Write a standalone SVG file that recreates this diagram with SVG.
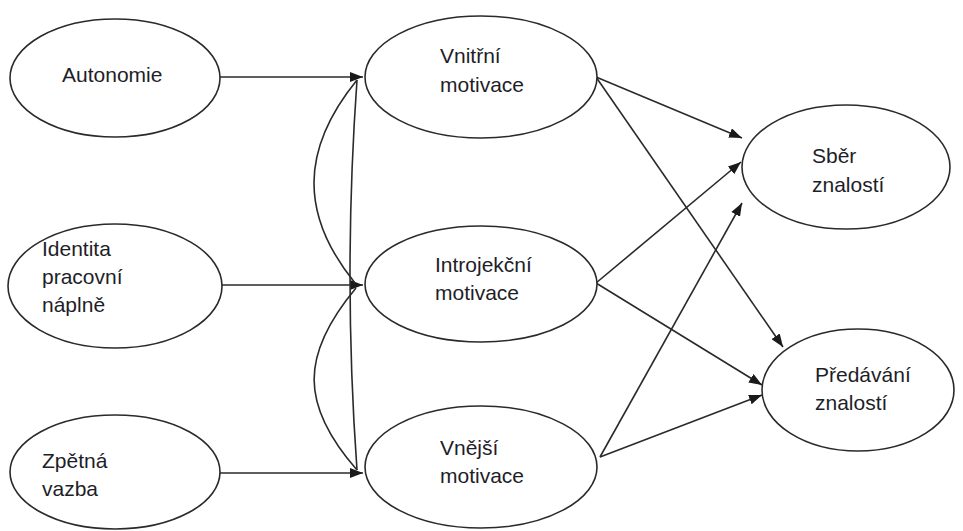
<svg xmlns="http://www.w3.org/2000/svg" width="963" height="531" viewBox="0 0 963 531">
  <defs>
    <marker id="arrow" viewBox="0 0 13 10" refX="13" refY="5" markerWidth="13" markerHeight="10" markerUnits="userSpaceOnUse" orient="auto">
      <path d="M0,0 L13,5 L0,10 z" fill="#1a1a1a"/>
    </marker>
    <style>
      .node { fill: #ffffff; stroke: #2a2a2a; stroke-width: 1.6; }
      .label { font-family: "Liberation Sans", Arial, sans-serif; font-size: 21px; fill: #1e1e28; }
      .edge { fill: none; stroke: #2a2a2a; stroke-width: 1.6; }
      .arrow { marker-end: url(#arrow); }
    </style>
  </defs>
  <rect width="963" height="531" fill="#ffffff"/>

  <!-- connectors -->
  <g id="connectors">
    <!-- inputs to motivation types -->
    <path class="edge arrow" d="M220,77 L363,77"/>
    <path class="edge arrow" d="M222,285 L363,285"/>
    <path class="edge arrow" d="M220,473 L363,473"/>
    <!-- correlation arcs between motivation types -->
    <path class="edge" d="M357,80 C300,150 300,215 355,283"/>
    <path class="edge" d="M356,288 C300,355 300,405 357,470"/>
    <path class="edge" d="M357,80 Q343,276 357,470"/>
    <!-- motivation types to outcomes -->
    <path class="edge arrow" d="M596,77 L742,138"/>
    <path class="edge arrow" d="M596,77 L783,347"/>
    <path class="edge arrow" d="M596,283 L741,162"/>
    <path class="edge arrow" d="M596,283 L762,385"/>
    <path class="edge arrow" d="M600,457 L742,203"/>
    <path class="edge arrow" d="M600,457 L762,395"/>
  </g>

  <g id="autonomie">
    <ellipse class="node" cx="115" cy="78" rx="105" ry="59"/>
    <text class="label" x="62" y="82">Autonomie</text>
  </g>
  <g id="identita">
    <ellipse class="node" cx="115" cy="286" rx="107" ry="62"/>
    <text class="label" x="42" y="256">Identita</text>
    <text class="label" x="42" y="284">pracovní</text>
    <text class="label" x="42" y="312">náplně</text>
  </g>
  <g id="zpetna-vazba">
    <ellipse class="node" cx="115" cy="472" rx="105" ry="57"/>
    <text class="label" x="42" y="468">Zpětná</text>
    <text class="label" x="42" y="496">vazba</text>
  </g>

  <g id="vnitrni">
    <ellipse class="node" cx="481" cy="77" rx="116" ry="61"/>
    <text class="label" x="440" y="63">Vnitřní</text>
    <text class="label" x="440" y="92">motivace</text>
  </g>
  <g id="introjekcni">
    <ellipse class="node" cx="481" cy="284" rx="116" ry="58"/>
    <text class="label" x="435" y="272">Introjekční</text>
    <text class="label" x="435" y="300">motivace</text>
  </g>
  <g id="vnejsi">
    <ellipse class="node" cx="481" cy="467" rx="116" ry="61"/>
    <text class="label" x="440" y="455">Vnější</text>
    <text class="label" x="440" y="483">motivace</text>
  </g>

  <g id="sber">
    <ellipse class="node" cx="846" cy="167" rx="104" ry="62"/>
    <text class="label" x="812" y="163">Sběr</text>
    <text class="label" x="812" y="192">znalostí</text>
  </g>
  <g id="predavani">
    <ellipse class="node" cx="858" cy="390" rx="96" ry="61"/>
    <text class="label" x="815" y="382">Předávání</text>
    <text class="label" x="815" y="410">znalostí</text>
  </g>
</svg>
